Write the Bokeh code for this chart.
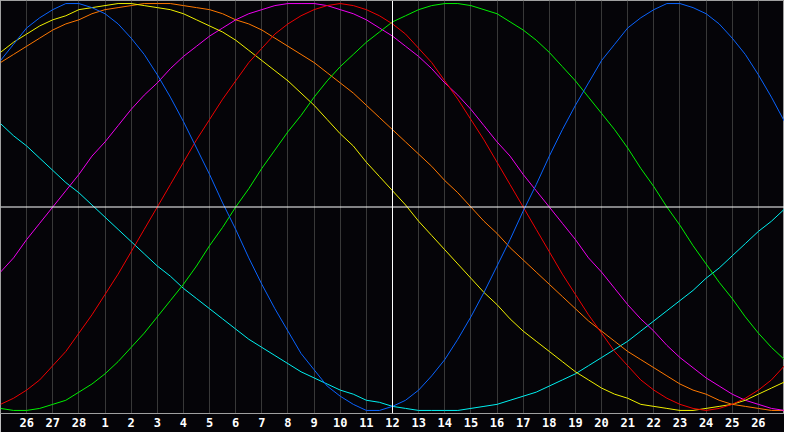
from bokeh.plotting import figure
from bokeh.models import Range1d, FixedTicker, Span
from bokeh.embed import file_html
from bokeh.resources import INLINE

# Half-day positions along the chart (0 = left edge, 30 = right edge)
days = [i / 2 for i in range(61)]

# Tick positions (day index) and their calendar labels
tick_days = list(range(1, 30))
tick_labels = ["26", "27", "28", "1", "2", "3", "4", "5", "6", "7", "8", "9", "10", "11",
               "12", "13", "14", "15", "16", "17", "18", "19", "20", "21", "22", "23",
               "24", "25", "26"]
today_index = 15

# Cycle values in percent (-100..100), read every half day from the chart
cycle_blue = [72, 80, 88, 93, 97, 100, 100, 98, 95, 90, 83, 75, 65, 54, 42, 29, 16, 2,
              -11, -25, -38, -50, -61, -72, -80, -88, -93, -97, -100, -100, -98, -95,
              -90, -83, -75, -65, -54, -42, -29, -16, -2, 11, 25, 38, 50, 61, 72, 80,
              88, 93, 97, 100, 100, 98, 95, 90, 83, 75, 65, 54, 42]
cycle_red = [-97, -94, -90, -85, -78, -71, -62, -53, -43, -33, -22, -11, 0, 11, 22, 33,
             43, 53, 62, 71, 78, 85, 90, 94, 97, 99, 100, 99, 97, 94, 90, 85, 78, 71,
             62, 53, 43, 33, 22, 11, 0, -11, -22, -33, -43, -53, -62, -71, -78, -85,
             -90, -94, -97, -99, -100, -99, -97, -94, -90, -85, -78]
cycle_green = [-99, -100, -100, -99, -97, -95, -91, -87, -82, -76, -69, -62, -54, -46,
               -38, -29, -19, -10, 0, 9, 19, 28, 37, 45, 54, 62, 69, 75, 81, 86, 91, 94,
               97, 99, 100, 100, 99, 97, 95, 91, 87, 82, 76, 69, 62, 54, 46, 38, 29, 19,
               10, 0, -9, -19, -28, -37, -45, -54, -62, -69, -75]
cycle_yellow = [76, 81, 85, 89, 92, 94, 97, 98, 99, 100, 100, 99, 98, 97, 95, 92, 89, 86,
                82, 77, 72, 67, 62, 56, 50, 43, 36, 30, 22, 15, 8, 1, -7, -14, -21, -28,
                -35, -42, -48, -55, -61, -66, -71, -76, -81, -85, -89, -92, -94, -97,
                -98, -99, -100, -100, -99, -98, -97, -95, -92, -89, -86]
cycle_magenta = [-32, -25, -16, -8, 0, 8, 16, 25, 32, 40, 48, 55, 61, 68, 74, 79, 84, 88,
                 92, 95, 97, 99, 100, 100, 100, 99, 97, 95, 92, 88, 84, 79, 74, 68, 61,
                 55, 48, 40, 32, 25, 16, 8, 0, -8, -16, -25, -32, -40, -48, -55, -61,
                 -68, -74, -79, -84, -88, -92, -95, -97, -99, -100]
cycle_orange = [71, 75, 79, 83, 87, 90, 92, 95, 97, 98, 99, 100, 100, 100, 99, 98, 97, 95,
                92, 90, 87, 83, 79, 75, 71, 66, 61, 56, 50, 44, 38, 32, 26, 20, 13, 7, 0,
                -7, -13, -20, -26, -32, -38, -44, -50, -56, -61, -66, -71, -75, -79, -83,
                -87, -90, -92, -95, -97, -98, -99, -100, -100]
cycle_cyan = [41, 35, 30, 24, 18, 12, 7, 1, -5, -11, -17, -23, -29, -34, -40, -45, -50,
              -55, -60, -65, -69, -73, -77, -81, -84, -87, -90, -92, -95, -96, -98, -99,
              -100, -100, -100, -100, -99, -98, -97, -95, -93, -91, -88, -85, -82, -78,
              -74, -70, -66, -61, -56, -51, -46, -41, -35, -30, -24, -18, -12, -7, -1]

series = [
    (cycle_cyan, "#00f0f0"),
    (cycle_orange, "#ff7800"),
    (cycle_magenta, "#f000f0"),
    (cycle_yellow, "#f0f000"),
    (cycle_green, "#00f000"),
    (cycle_red, "#f00000"),
    (cycle_blue, "#0a64ff"),
]

BG = "#050408"

p = figure(width=784, height=432, x_range=Range1d(0, 30), y_range=Range1d(-101.5, 101.5),
           output_backend="svg", toolbar_location=None,
           background_fill_color=BG, border_fill_color=BG,
           min_border_left=0, min_border_right=0, min_border_top=0, min_border_bottom=19)

p.yaxis.visible = False
p.ygrid.grid_line_color = None

p.xaxis.ticker = FixedTicker(ticks=tick_days)
p.xaxis.major_label_overrides = {d: lab for d, lab in zip(tick_days, tick_labels)}
p.xaxis.axis_line_color = "#a0a0a0"
p.xaxis.axis_line_width = 1
p.xaxis.major_tick_line_color = None
p.xaxis.minor_tick_line_color = None
p.xaxis.major_tick_out = 0
p.xaxis.major_tick_in = 0
p.xaxis.major_label_standoff = 4
p.xaxis.major_label_text_color = "#ffffff"
p.xaxis.major_label_text_font = "DejaVu Sans Mono"
p.xaxis.major_label_text_font_style = "bold"
p.xaxis.major_label_text_font_size = "12px"

p.xgrid.ticker = FixedTicker(ticks=tick_days)
p.xgrid.grid_line_color = "#383838"
p.xgrid.grid_line_width = 1

p.outline_line_color = "#a0a0a0"
p.outline_line_width = 1

p.add_layout(Span(location=0, dimension="width", line_color="#ffffff", line_width=1))
p.add_layout(Span(location=today_index, dimension="height", line_color="#ffffff", line_width=1))

for vals, col in series:
    p.line(days, vals, line_color=col, line_width=1)

open("out.html", "w").write(file_html(p, INLINE))
